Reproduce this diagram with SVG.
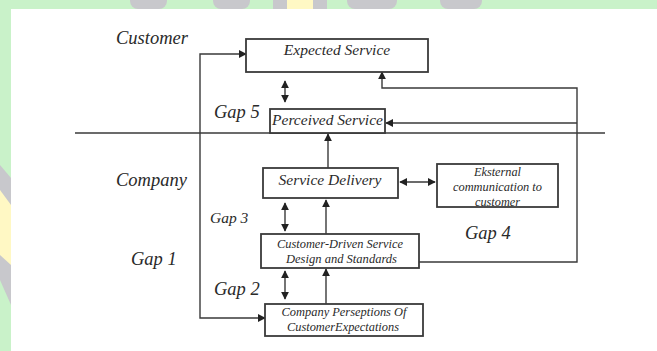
<svg xmlns="http://www.w3.org/2000/svg" width="657" height="351" viewBox="0 0 657 351">
<defs>
<style>
.box{fill:#fff;stroke:#3a3a3a;stroke-width:1.8}
.ln{fill:none;stroke:#3a3a3a;stroke-width:1.4}
.t{font-family:"Liberation Serif","Times New Roman",serif;font-style:italic;fill:#2a2a2a}
.big{font-size:18.5px}
.mid{font-size:15.5px}
.sm{font-size:12.5px}
.c{text-anchor:middle}
</style>
<marker id="ah" viewBox="0 0 10 10" refX="9" refY="5" markerWidth="8" markerHeight="8" markerUnits="userSpaceOnUse" orient="auto-start-reverse">
<path d="M0,0 L10,5 L0,10 z" fill="#222"/>
</marker>
</defs>
<rect x="0" y="0" width="657" height="351" fill="#c9f2c9"/>
<g id="watermark">
<rect x="130" y="-10" width="37" height="19" rx="8" fill="#c8c8cc"/>
<rect x="213" y="-10" width="37" height="19" rx="8" fill="#c8c8cc"/>
<rect x="273" y="-10" width="54" height="19" fill="#c8c8cc"/>
<rect x="287" y="-10" width="26" height="19" fill="#fff8c4"/>
<rect x="347" y="-10" width="50" height="19" rx="8" fill="#c8c8cc"/>
<rect x="440" y="-10" width="42" height="19" rx="8" fill="#c8c8cc"/>
<polygon points="0,165 11,178 11,305 0,280" fill="#c8c8cc"/>
<polygon points="0,190 11,205 11,265 0,255" fill="#fff8c4"/>
</g>
<rect x="11" y="9" width="646" height="342" fill="#fff"/>
<g id="labels">
<text class="t big" x="116" y="44">Customer</text>
<text class="t big" x="116" y="186">Company</text>
<text class="t big" x="214" y="118">Gap 5</text>
<text class="t mid" x="210" y="223">Gap 3</text>
<text class="t big" x="131" y="265">Gap 1</text>
<text class="t big" x="214" y="295">Gap 2</text>
<text class="t big" x="465" y="239">Gap 4</text>
</g>
<g id="connectors">
<line class="ln" x1="75" y1="133" x2="605" y2="133"/>
<polyline class="ln" points="246,54 200,54 200,318 265,318" marker-start="url(#ah)" marker-end="url(#ah)"/>
<line class="ln" x1="285" y1="81" x2="285" y2="102" marker-start="url(#ah)" marker-end="url(#ah)"/>
<polyline class="ln" points="419,262 577,262 577,88 382,88 382,72" marker-end="url(#ah)"/>
<line class="ln" x1="577" y1="123" x2="386" y2="123" marker-end="url(#ah)"/>
<line class="ln" x1="328" y1="168" x2="328" y2="134" marker-end="url(#ah)"/>
<line class="ln" x1="400" y1="182" x2="435" y2="182" marker-start="url(#ah)" marker-end="url(#ah)"/>
<line class="ln" x1="285" y1="203" x2="285" y2="231" marker-start="url(#ah)" marker-end="url(#ah)"/>
<line class="ln" x1="326" y1="234" x2="326" y2="200" marker-end="url(#ah)"/>
<line class="ln" x1="285" y1="271" x2="285" y2="299" marker-start="url(#ah)" marker-end="url(#ah)"/>
<line class="ln" x1="326" y1="304" x2="326" y2="269" marker-end="url(#ah)"/>
</g>
<g id="expected">
<rect class="box" x="246" y="39" width="182" height="33"/>
<text class="t mid c" x="337" y="55">Expected Service</text>
</g>
<g id="perceived">
<rect class="box" x="270" y="109" width="115" height="24"/>
<text class="t mid c" x="327.5" y="125">Perceived Service</text>
</g>
<g id="delivery">
<rect class="box" x="263" y="168" width="135" height="30"/>
<text class="t mid c" x="330" y="185">Service Delivery</text>
</g>
<g id="external">
<rect class="box" x="437" y="164" width="121" height="43"/>
<text class="t sm c" x="497.5" y="176" textLength="47" lengthAdjust="spacingAndGlyphs">Eksternal</text>
<text class="t sm c" x="497.5" y="191" textLength="89" lengthAdjust="spacingAndGlyphs">communication to</text>
<text class="t sm c" x="497.5" y="206" textLength="45" lengthAdjust="spacingAndGlyphs">customer</text>
</g>
<g id="design">
<rect class="box" x="261" y="234" width="158" height="34"/>
<text class="t sm c" x="340" y="247.5" textLength="126" lengthAdjust="spacingAndGlyphs">Customer-Driven Service</text>
<text class="t sm c" x="341.5" y="262.5" textLength="111" lengthAdjust="spacingAndGlyphs">Design and Standards</text>
</g>
<g id="perceptions">
<rect class="box" x="265" y="304" width="158" height="32"/>
<text class="t sm c" x="344" y="316" textLength="125" lengthAdjust="spacingAndGlyphs">Company Perseptions Of</text>
<text class="t sm c" x="343" y="331" textLength="112" lengthAdjust="spacingAndGlyphs">CustomerExpectations</text>
</g>
</svg>
